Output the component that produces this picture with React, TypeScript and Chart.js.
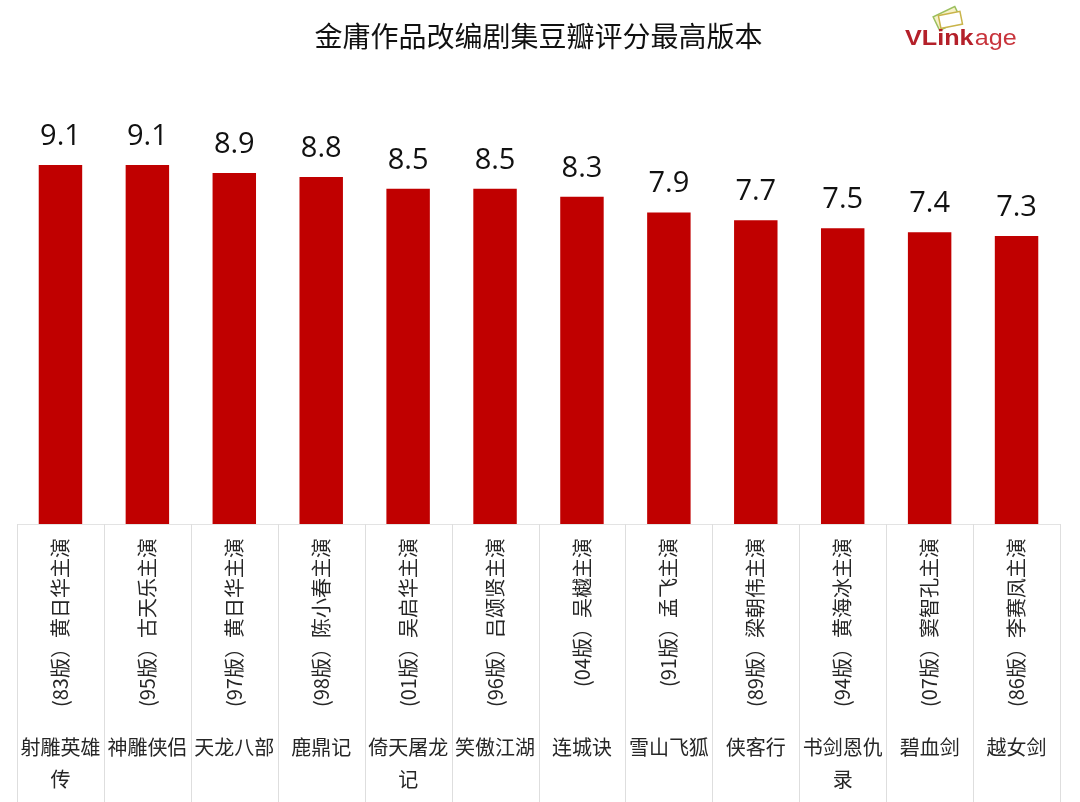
import React, { useEffect, useRef } from 'react';
import { Chart, registerables } from 'chart.js';

Chart.register(...registerables);

const titleText = '金庸作品改编剧集豆瓣评分最高版本';

const categoryLines: string[][] = [
  ['射雕英雄', '传'],
  ['神雕侠侣'],
  ['天龙八部'],
  ['鹿鼎记'],
  ['倚天屠龙', '记'],
  ['笑傲江湖'],
  ['连城诀'],
  ['雪山飞狐'],
  ['侠客行'],
  ['书剑恩仇', '录'],
  ['碧血剑'],
  ['越女剑'],
];

const versionLabels: string[] = [
  '(83版）黄日华主演',
  '(95版）古天乐主演',
  '(97版）黄日华主演',
  '(98版）陈小春主演',
  '(01版）吴启华主演',
  '(96版）吕颂贤主演',
  '(04版）吴樾主演',
  '(91版）孟飞主演',
  '(89版）梁朝伟主演',
  '(94版）黄海冰主演',
  '(07版）窦智孔主演',
  '(86版）李赛凤主演',
];

const scores: number[] = [9.1, 9.1, 8.9, 8.8, 8.5, 8.5, 8.3, 7.9, 7.7, 7.5, 7.4, 7.3];

const CJK = "'Noto Sans CJK SC', 'Noto Sans', sans-serif";

const valueLabelPlugin = {
  id: 'valueLabels',
  afterDatasetsDraw(chart: any) {
    const ctx = chart.ctx;
    const meta = chart.getDatasetMeta(0);
    ctx.save();
    ctx.font = "29px 'Open Sans', sans-serif";
    ctx.fillStyle = '#111111';
    ctx.textAlign = 'center';
    ctx.textBaseline = 'alphabetic';
    meta.data.forEach((bar: any, i: number) => {
      ctx.fillText(scores[i].toFixed(1), bar.x, bar.y - 20);
    });
    ctx.restore();
  },
};

const separatorPlugin = {
  id: 'separators',
  afterDraw(chart: any) {
    const xs = chart.scales.x;
    const ctx = chart.ctx;
    const top = chart.chartArea.bottom;
    const bottom = chart.height;
    const n = versionLabels.length;
    const step = xs.getPixelForValue(1) - xs.getPixelForValue(0);
    const start = xs.getPixelForValue(0) - step / 2;
    ctx.save();
    ctx.strokeStyle = '#dedede';
    ctx.lineWidth = 1;
    for (let i = 0; i <= n; i++) {
      const px = Math.round(start + i * step) + 0.5;
      ctx.beginPath();
      ctx.moveTo(px, top);
      ctx.lineTo(px, bottom);
      ctx.stroke();
    }
    ctx.restore();
  },
};

const logoPlugin = {
  id: 'logo',
  afterDraw(chart: any) {
    const ctx = chart.ctx;
    ctx.save();
    ctx.translate(947, 18);
    ctx.rotate(-0.45);
    ctx.fillStyle = '#f6f1c8';
    ctx.strokeStyle = '#9bbf5e';
    ctx.lineWidth = 1.5;
    ctx.fillRect(-12, -7, 24, 15);
    ctx.strokeRect(-12, -7, 24, 15);
    ctx.rotate(0.25);
    ctx.translate(3, 2);
    ctx.fillStyle = '#ffffff';
    ctx.strokeStyle = '#c9b44a';
    ctx.fillRect(-11, -6, 22, 13);
    ctx.strokeRect(-11, -6, 22, 13);
    ctx.restore();

    ctx.save();
    ctx.translate(905, 45);
    ctx.scale(1.2, 1.05);
    ctx.textAlign = 'left';
    ctx.textBaseline = 'alphabetic';
    ctx.font = "bold 21px 'Liberation Sans', Arial, sans-serif";
    ctx.fillStyle = '#b4202a';
    ctx.fillText('VLink', 0, 0);
    const w = ctx.measureText('VLink').width;
    ctx.font = "21px 'Liberation Sans', Arial, sans-serif";
    ctx.fillStyle = '#c8343c';
    ctx.fillText('age', w + 1, 0);
    ctx.restore();
  },
};

export default function App() {
  const canvasRef = useRef<HTMLCanvasElement | null>(null);

  useEffect(() => {
    if (!canvasRef.current) return;
    const chart = new Chart(canvasRef.current, {
      type: 'bar',
      data: {
        labels: versionLabels,
        datasets: [
          {
            data: scores,
            backgroundColor: '#c00000',
            borderWidth: 0,
            barPercentage: 0.5,
            categoryPercentage: 1,
          },
        ],
      },
      options: {
        responsive: false,
        animation: false,
        layout: { padding: { left: 17, right: 20, top: 0, bottom: -3 } },
        plugins: {
          legend: { display: false },
          tooltip: { enabled: false },
          title: {
            display: true,
            text: titleText,
            color: '#111111',
            font: { family: CJK, size: 28, weight: 'normal', lineHeight: 1.2 },
            padding: { top: 20, bottom: 76 },
          },
        },
        scales: {
          y: { display: false, min: 0, max: 10 },
          x: {
            position: 'bottom',
            weight: 0,
            grid: { display: false, drawTicks: false },
            border: { display: true, color: '#e3e3e3' },
            ticks: {
              autoSkip: false,
              minRotation: 90,
              maxRotation: 90,
              padding: 14,
              color: '#262626',
              font: { family: CJK, size: 20 },
            },
          },
          x2: {
            type: 'category',
            position: 'bottom',
            weight: 1,
            offset: true,
            labels: categoryLines as any,
            grid: { display: false, drawTicks: false },
            border: { display: false },
            ticks: {
              autoSkip: false,
              minRotation: 0,
              maxRotation: 0,
              padding: 10,
              color: '#262626',
              font: { family: CJK, size: 20, lineHeight: 1.6 },
            },
          },
        },
      },
      plugins: [valueLabelPlugin, separatorPlugin, logoPlugin],
    } as any);
    return () => chart.destroy();
  }, []);

  return (
    <div style={{ position: 'fixed', left: 0, top: 0, width: 1080, height: 802, background: '#ffffff' }}>
      <canvas ref={canvasRef} width={1080} height={802} />
    </div>
  );
}
